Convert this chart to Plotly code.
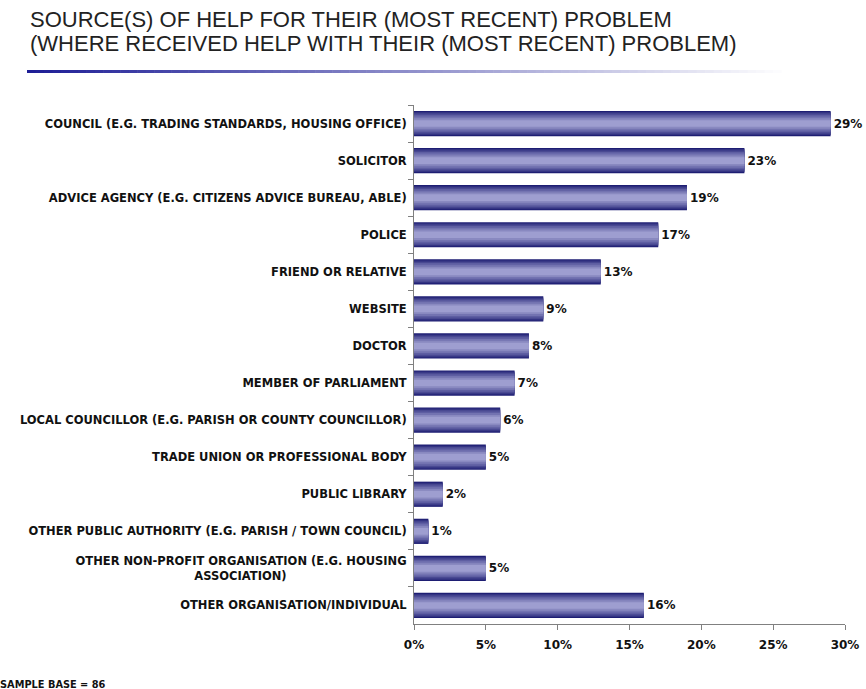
import plotly.graph_objects as go

# Survey responses: where people received help with their most recent problem
categories = [
    "COUNCIL (E.G. TRADING STANDARDS, HOUSING OFFICE)",
    "SOLICITOR",
    "ADVICE AGENCY (E.G. CITIZENS ADVICE BUREAU, ABLE)",
    "POLICE",
    "FRIEND OR RELATIVE",
    "WEBSITE",
    "DOCTOR",
    "MEMBER OF PARLIAMENT",
    "LOCAL COUNCILLOR (E.G. PARISH OR COUNTY COUNCILLOR)",
    "TRADE UNION OR PROFESSIONAL BODY",
    "PUBLIC LIBRARY",
    "OTHER PUBLIC AUTHORITY (E.G. PARISH / TOWN COUNCIL)",
    # second line padded with non-breaking spaces so it sits centred under the first
    "OTHER NON-PROFIT ORGANISATION (E.G. HOUSING<br>ASSOCIATION)" + "\u00a0" * 30,
    "OTHER ORGANISATION/INDIVIDUAL",
]
percentages = [29, 23, 19, 17, 13, 9, 8, 7, 6, 5, 2, 1, 5, 16]
x_tick_values = [0, 5, 10, 15, 20, 25, 30]
x_tick_labels = ["0%", "5%", "10%", "15%", "20%", "25%", "30%"]

LABEL_FONT = "DejaVu Sans, Verdana, sans-serif"
TITLE_FONT = "Liberation Sans, Arial, sans-serif"

W, H = 866, 689
ML, MR, MT, MB = 414, 21, 105, 65
PW, PH = W - ML - MR, H - MT - MB


def px_x(x):
    return (x - ML) / PW


def px_y(y):
    return (H - MB - y) / PH


fig = go.Figure()

# Stacked overlay of progressively narrower, lighter bars gives the
# cylindrical (dark edge / light centre) shading of each bar.
dark = (30, 30, 115)
light = (158, 158, 208)
widths = [0.68, 0.62, 0.55, 0.47, 0.38, 0.28, 0.18]
n = len(widths)
for i, w in enumerate(widths):
    t = i / (n - 1)
    c = tuple(round(dark[k] + (light[k] - dark[k]) * t) for k in range(3))
    fig.add_trace(go.Bar(
        x=percentages,
        y=categories,
        orientation="h",
        width=w,
        marker=dict(color="rgb(%d,%d,%d)" % c, line=dict(width=0)),
        hoverinfo="skip" if i else None,
        showlegend=False,
        text=[f"{v}%" for v in percentages] if i == 0 else None,
        texttemplate="<b>%{text}</b>" if i == 0 else None,
        textposition="outside" if i == 0 else None,
        textfont=dict(family=LABEL_FONT, size=12, color="#111111"),
        cliponaxis=False,
    ))

# Fading underline beneath the title
x0, x1, segs = 27, 790, 90
for s in range(segs):
    t = s / (segs - 1)
    r = round(30 + (255 - 30) * t)
    g = round(30 + (255 - 30) * t)
    b = round(150 + (255 - 150) * t)
    fig.add_shape(
        type="rect", xref="paper", yref="paper",
        x0=px_x(x0 + (x1 - x0) * s / segs),
        x1=px_x(x0 + (x1 - x0) * (s + 1) / segs + 0.6),
        y0=px_y(73), y1=px_y(70),
        fillcolor="rgb(%d,%d,%d)" % (r, g, b), line=dict(width=0), layer="above",
    )

title_lines = [
    "SOURCE(S) OF HELP FOR THEIR (MOST RECENT) PROBLEM",
    "(WHERE RECEIVED HELP WITH THEIR (MOST RECENT) PROBLEM)",
]
annotations = []
for line, yc in zip(title_lines, [19, 43]):
    annotations.append(dict(
        text=line, xref="paper", yref="paper",
        x=px_x(28), y=px_y(yc), xanchor="left", yanchor="middle",
        showarrow=False,
        font=dict(family=TITLE_FONT, size=22, color="#222222"),
    ))
annotations.append(dict(
    text="<b>SAMPLE BASE = 86</b>", xref="paper", yref="paper",
    x=px_x(-2), y=px_y(684), xanchor="left", yanchor="middle",
    showarrow=False, font=dict(family=LABEL_FONT, size=9.8, color="#111111"),
))

fig.update_layout(
    width=W, height=H,
    paper_bgcolor="white", plot_bgcolor="white",
    barmode="overlay",
    margin=dict(l=ML, r=MR, t=MT, b=MB, autoexpand=False),
    xaxis=dict(
        range=[0, 30], tickvals=x_tick_values,
        ticktext=[f"<b>{t}</b>" for t in x_tick_labels],
        showgrid=False, zeroline=False, showline=True, linecolor="#808080", linewidth=1,
        ticks="outside", ticklen=5, tickcolor="#808080", ticklabelstandoff=5,
        tickfont=dict(family=LABEL_FONT, size=12, color="#111111"),
        automargin=False, fixedrange=True,
    ),
    yaxis=dict(
        autorange="reversed", showgrid=False, zeroline=False,
        showline=True, linecolor="#808080", linewidth=1,
        ticks="outside", ticklen=5, tickcolor="#808080", tickson="boundaries",
        ticklabelstandoff=4,
        tickprefix="<b>", ticksuffix="</b>",
        tickfont=dict(family=LABEL_FONT, size=11.5, color="#111111"),
        automargin=False, fixedrange=True,
    ),
    annotations=annotations,
)

fig.write_html("out.html")
